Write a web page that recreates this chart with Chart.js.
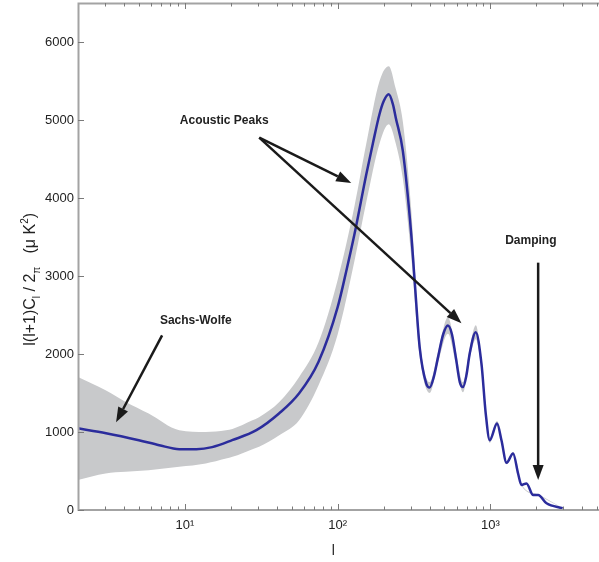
<!DOCTYPE html>
<html>
<head>
<meta charset="utf-8">
<script src="https://cdn.jsdelivr.net/npm/chart.js@4.4.0/dist/chart.umd.min.js"></script>
<style>
  html, body { margin: 0; padding: 0; background: #fff; }
  #wrap { width: 599px; height: 562px; }
</style>
</head>
<body>
<div id="wrap"><canvas id="spectrum"></canvas></div>
<script>
// multipole l and l(l+1)C_l/2pi (uK^2)
const ell = [2, 3.05, 5, 6.8, 9.2, 11.9, 15.1, 20.4, 29.4, 41.5, 56, 75, 100, 115, 129, 154, 170, 188, 200, 216, 230, 240, 267, 303, 319, 344, 380, 400, 425, 454, 490, 527, 560, 593, 630, 661, 695, 731, 801, 873, 931, 989, 1104, 1180, 1274, 1406, 1517, 1596, 1721, 1902, 2051, 2328, 2966];
const power = [1047, 985, 895, 831, 780, 780, 806, 895, 1023, 1240, 1496, 1900, 2600, 3100, 3542, 4305, 4700, 5077, 5240, 5329, 5200, 5030, 4604, 3538, 2941, 2088, 1620, 1570, 1700, 1960, 2250, 2366, 2250, 1960, 1640, 1577, 1720, 2003, 2280, 1876, 1237, 895, 1109, 895, 605, 725, 465, 320, 341, 192, 192, 86, 22];

// grey error band
const bandL = [2, 3.03, 4.1, 5.8, 9.2, 13.7, 18.6, 20.5, 27.7, 30.6, 41.5, 56, 75, 100, 129, 154, 188, 216, 240, 267, 303, 344, 400, 454, 527, 593, 661, 731, 801, 873, 989, 1104, 1274, 1406, 1596, 2051, 2966];
const bandHigh = [1705, 1535, 1385, 1236, 1023, 1001, 1023, 1040, 1151, 1190, 1385, 1705, 2150, 2950, 3900, 4700, 5500, 5690, 5400, 4980, 3850, 2200, 1640, 2030, 2470, 2040, 1640, 2070, 2370, 1940, 930, 1140, 625, 745, 330, 198, 24];
const bandLow = [384, 469, 490, 511, 554, 597, 660, 682, 780, 810, 959, 1151, 1600, 2250, 3200, 3950, 4700, 4945, 4700, 4250, 3250, 1980, 1500, 1890, 2260, 1880, 1510, 1940, 2190, 1810, 860, 1080, 585, 705, 310, 186, 20];

// axis ticks
const xMajorTicks = [10, 100, 1000];
const xTickLabels = ["10\u00b9", "10\u00b2", "10\u00b3"];
const xMinorTicks = [3, 4, 5, 6, 7, 8, 9, 20, 30, 40, 50, 60, 70, 80, 90, 200, 300, 400, 500, 600, 700, 800, 900, 2000, 3000, 4000, 5000];
const yTicks = [0, 1000, 2000, 3000, 4000, 5000, 6000];

// annotations, in data units [l, value]
const sachsLabel = [11.8, 2421];
const sachsArrow = [[7.1, 2238], [3.55, 1125]];
const peaksLabel = [18.1, 4987];
const peaksFrom = [30.7, 4774];
const peaksTips = [[122.7, 4192], [646, 2395]];
const dampLabel = [1837, 3453];
const dampArrow = [[2051, 3171], [2051, 384]];

const FONT = "'Liberation Sans', Arial, sans-serif";

function pts(xs, ys) {
  return xs.map((v, i) => ({ x: v, y: ys[i] }));
}

function drawArrow(ctx, x0, y0, x1, y1) {
  const ang = Math.atan2(y1 - y0, x1 - x0);
  const len = 15, half = 5.5;
  const bx = x1 - len * Math.cos(ang), by = y1 - len * Math.sin(ang);
  ctx.beginPath();
  ctx.moveTo(x0, y0);
  ctx.lineTo(bx, by);
  ctx.stroke();
  ctx.beginPath();
  ctx.moveTo(x1, y1);
  ctx.lineTo(bx + half * Math.sin(ang), by - half * Math.cos(ang));
  ctx.lineTo(bx - half * Math.sin(ang), by + half * Math.cos(ang));
  ctx.closePath();
  ctx.fill();
}

// axes box, inward ticks, titles and annotations
const decorPlugin = {
  id: "decor",
  afterDatasetsDraw(chart) {
    const { ctx, chartArea: a, scales: { x, y } } = chart;
    ctx.save();

    ctx.strokeStyle = "#a3a3a3";
    ctx.lineWidth = 2;
    ctx.beginPath();
    ctx.moveTo(a.right, a.top + 0.5);
    ctx.lineTo(a.left + 0.5, a.top + 0.5);
    ctx.lineTo(a.left + 0.5, a.bottom);
    ctx.lineTo(a.right, a.bottom);
    ctx.stroke();

    ctx.strokeStyle = "#7a7a7a";
    ctx.lineWidth = 1;
    ctx.beginPath();
    const xTick = (v, len) => {
      const px = Math.round(x.getPixelForValue(v)) + 0.5;
      ctx.moveTo(px, a.bottom);
      ctx.lineTo(px, a.bottom - len);
      ctx.moveTo(px, a.top);
      ctx.lineTo(px, a.top + len);
    };
    xMajorTicks.forEach((v) => xTick(v, 6));
    xMinorTicks.forEach((v) => xTick(v, 3.5));
    yTicks.forEach((v) => {
      const py = Math.round(y.getPixelForValue(v)) + 0.5;
      ctx.moveTo(a.left, py);
      ctx.lineTo(a.left + 6, py);
    });
    ctx.stroke();

    // x title
    ctx.fillStyle = "#222";
    ctx.font = "14px " + FONT;
    ctx.textAlign = "center";
    ctx.textBaseline = "middle";
    ctx.fillText("l", a.left + 0.49 * (a.right - a.left), a.bottom + 41);

    // y title with sub/superscripts
    const parts = [
      ["l(l+1)C", 0, 16], ["l", 5, 10], [" / 2", 0, 16], ["\u03c0", 5, 10],
      ["   (\u03bc K", 0, 16], ["2", -7, 10], [")", 0, 16],
    ];
    ctx.save();
    ctx.translate(35, a.top + 0.545 * (a.bottom - a.top));
    ctx.rotate(-Math.PI / 2);
    ctx.textAlign = "left";
    ctx.textBaseline = "alphabetic";
    let total = 0;
    parts.forEach((p) => { ctx.font = p[2] + "px " + FONT; total += ctx.measureText(p[0]).width; });
    let cx = -total / 2;
    parts.forEach((p) => {
      ctx.font = p[2] + "px " + FONT;
      ctx.fillText(p[0], cx, p[1]);
      cx += ctx.measureText(p[0]).width;
    });
    ctx.restore();

    // annotations
    const P = (d) => [x.getPixelForValue(d[0]), y.getPixelForValue(d[1])];
    ctx.strokeStyle = "#1a1a1a";
    ctx.fillStyle = "#1a1a1a";
    ctx.lineWidth = 2.5;
    let s = P(sachsArrow[0]), t = P(sachsArrow[1]);
    drawArrow(ctx, s[0], s[1], t[0], t[1]);
    const f = P(peaksFrom);
    peaksTips.forEach((tip) => {
      const q = P(tip);
      drawArrow(ctx, f[0], f[1], q[0], q[1]);
    });
    s = P(dampArrow[0]); t = P(dampArrow[1]);
    drawArrow(ctx, s[0], s[1], t[0], t[1]);

    ctx.fillStyle = "#222";
    ctx.font = "bold 12px " + FONT;
    ctx.textAlign = "center";
    ctx.textBaseline = "middle";
    [[sachsLabel, "Sachs-Wolfe"], [peaksLabel, "Acoustic Peaks"], [dampLabel, "Damping"]].forEach(([d, txt]) => {
      const q = P(d);
      ctx.fillText(txt, q[0], q[1]);
    });

    ctx.restore();
  },
};

new Chart(document.getElementById("spectrum"), {
  type: "line",
  data: {
    datasets: [
      {
        label: "spectrum",
        data: pts(ell, power),
        borderColor: "#2b2c9c",
        borderWidth: 2.5,
        pointRadius: 0,
        cubicInterpolationMode: "monotone",
        fill: false,
        order: 0,
      },
      {
        label: "upper",
        data: pts(bandL, bandHigh),
        borderWidth: 0,
        borderColor: "rgba(0,0,0,0)",
        backgroundColor: "#c8c9cb",
        pointRadius: 0,
        cubicInterpolationMode: "monotone",
        fill: "+1",
        order: 1,
      },
      {
        label: "lower",
        data: pts(bandL, bandLow),
        borderWidth: 0,
        borderColor: "rgba(0,0,0,0)",
        pointRadius: 0,
        cubicInterpolationMode: "monotone",
        fill: false,
        order: 2,
      },
    ],
  },
  options: {
    responsive: true,
    maintainAspectRatio: false,
    animation: false,
    layout: { padding: { top: 3, right: 0, left: 0, bottom: 0 } },
    plugins: { legend: { display: false }, tooltip: { enabled: false } },
    scales: {
      x: {
        type: "logarithmic",
        min: 2,
        max: 5130,
        grid: { display: false, drawTicks: false },
        border: { display: false },
        afterBuildTicks: (scale) => { scale.ticks = xMajorTicks.map((v) => ({ value: v })); },
        afterFit: (scale) => { scale.height = 52; scale.paddingLeft = 0; scale.paddingRight = 0; },
        ticks: {
          autoSkip: false,
          maxRotation: 0,
          padding: 8,
          color: "#222",
          font: { family: FONT, size: 13 },
          callback: (v) => xTickLabels[xMajorTicks.indexOf(v)] || "",
        },
      },
      y: {
        min: 0,
        max: 6500,
        grid: { display: false, drawTicks: false },
        border: { display: false },
        afterBuildTicks: (scale) => { scale.ticks = yTicks.map((v) => ({ value: v })); },
        afterFit: (scale) => { scale.width = 78; scale.paddingTop = 0; scale.paddingBottom = 0; },
        ticks: {
          padding: 4,
          color: "#222",
          font: { family: FONT, size: 13 },
          callback: (v) => String(v),
        },
      },
    },
  },
  plugins: [decorPlugin],
});
</script>
</body>
</html>
